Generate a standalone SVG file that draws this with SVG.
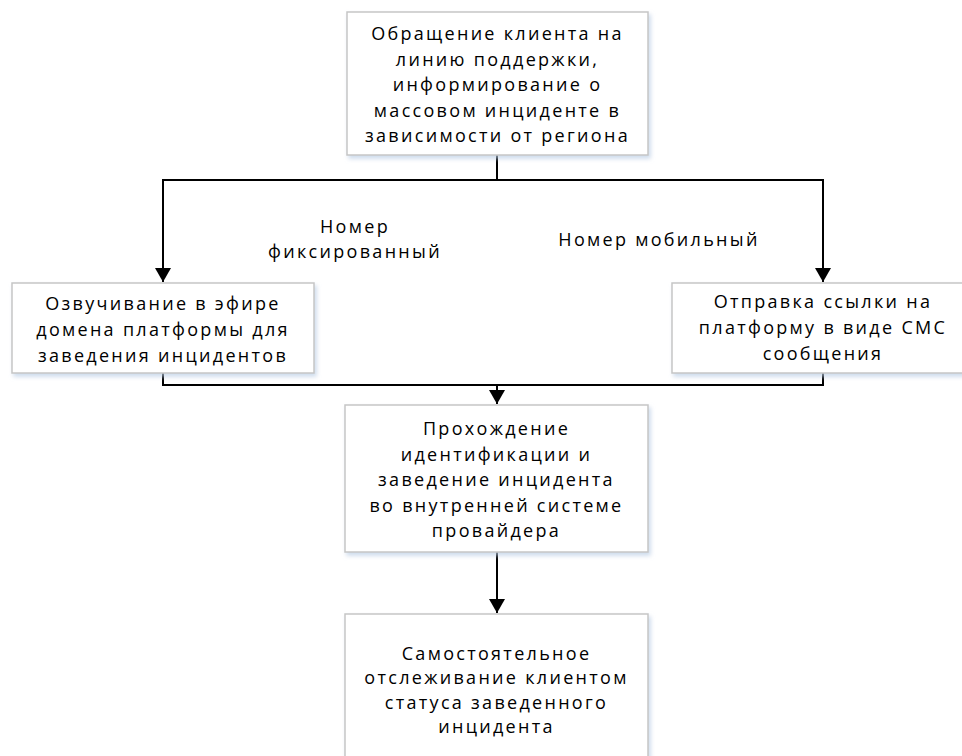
<svg xmlns="http://www.w3.org/2000/svg" width="962" height="756" viewBox="0 0 962 756">
<defs>
<style>
.box{fill:#ffffff;stroke:#c6c6c6;stroke-width:1.5;filter:url(#sh)}
.t{font-family:"Open Sans","Liberation Sans",sans-serif;font-size:18px;letter-spacing:2.3px;fill:#000;text-anchor:middle}
.c{fill:none;stroke:#000;stroke-width:2}
</style>
<filter id="sh" x="-10%" y="-10%" width="130%" height="130%">
<feDropShadow dx="2" dy="3" stdDeviation="2" flood-color="#b8cce4" flood-opacity="0.7"/>
</filter>
<marker id="ah" viewBox="0 0 14 16" refX="14" refY="8" markerWidth="14" markerHeight="16" markerUnits="userSpaceOnUse" orient="auto">
<path d="M0,0 L14,8 L0,16 Z" fill="#000"/>
</marker>
</defs>
<g id="connectors">
<path class="c" d="M497,155 V180"/>
<path class="c" d="M163,180 H823"/>
<path class="c" d="M163,179 V282" marker-end="url(#ah)"/>
<path class="c" d="M823,179 V282" marker-end="url(#ah)"/>
<path class="c" d="M163,373 V385 H823 V373"/>
<path class="c" d="M497,385 V404" marker-end="url(#ah)"/>
<path class="c" d="M497,552 V613" marker-end="url(#ah)"/>
</g>
<g id="node-start">
<rect class="box" x="347" y="12" width="301" height="143"/>
<text class="t" x="497.5" y="40">Обращение клиента на</text>
<text class="t" x="497.5" y="65.5">линию поддержки,</text>
<text class="t" x="497.5" y="91">информирование о</text>
<text class="t" x="497.5" y="116.5">массовом инциденте в</text>
<text class="t" x="497.5" y="142">зависимости от региона</text>
</g>
<g id="label-fixed">
<text class="t" x="355" y="232.5">Номер</text>
<text class="t" x="355" y="257.5">фиксированный</text>
</g>
<g id="label-mobile">
<text class="t" x="659" y="246">Номер мобильный</text>
</g>
<g id="node-voice">
<rect class="box" x="12" y="283" width="302" height="90"/>
<text class="t" x="163" y="310">Озвучивание в эфире</text>
<text class="t" x="163" y="336">домена платформы для</text>
<text class="t" x="163" y="362">заведения инцидентов</text>
</g>
<g id="node-sms">
<rect class="box" x="672" y="283" width="302" height="90"/>
<text class="t" x="823" y="308">Отправка ссылки на</text>
<text class="t" x="823" y="334">платформу в виде СМС</text>
<text class="t" x="823" y="360">сообщения</text>
</g>
<g id="node-ident">
<rect class="box" x="345" y="405" width="303" height="147"/>
<text class="t" x="496.5" y="435">Прохождение</text>
<text class="t" x="496.5" y="460.5">идентификации и</text>
<text class="t" x="496.5" y="486">заведение инцидента</text>
<text class="t" x="496.5" y="511.5">во внутренней системе</text>
<text class="t" x="496.5" y="537">провайдера</text>
</g>
<g id="node-track">
<rect class="box" x="345" y="614" width="303" height="160"/>
<text class="t" x="496.5" y="659.5">Самостоятельное</text>
<text class="t" x="496.5" y="684">отслеживание клиентом</text>
<text class="t" x="496.5" y="708.5">статуса заведенного</text>
<text class="t" x="496.5" y="733">инцидента</text>
</g>
</svg>
